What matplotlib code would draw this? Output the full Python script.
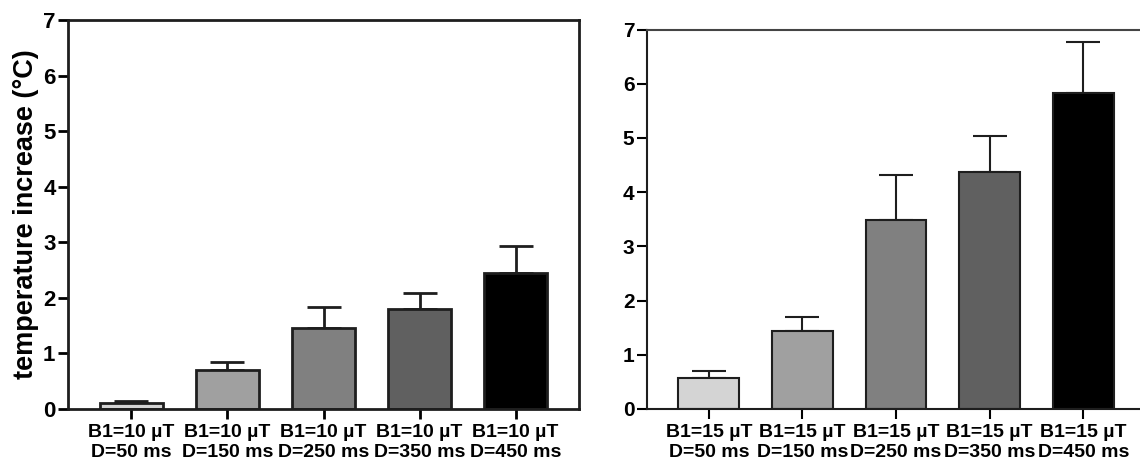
import matplotlib
matplotlib.use("Agg")
import matplotlib.pyplot as plt

plt.rcParams['font.family'] = ['Liberation Sans', 'DejaVu Sans']
plt.rcParams['font.weight'] = 'bold'

# data
labels_10 = ["B1=10 µT\nD=50 ms", "B1=10 µT\nD=150 ms", "B1=10 µT\nD=250 ms",
             "B1=10 µT\nD=350 ms", "B1=10 µT\nD=450 ms"]
labels_15 = ["B1=15 µT\nD=50 ms", "B1=15 µT\nD=150 ms", "B1=15 µT\nD=250 ms",
             "B1=15 µT\nD=350 ms", "B1=15 µT\nD=450 ms"]
mean_10 = [0.10, 0.70, 1.45, 1.80, 2.45]
err_10 = [0.05, 0.15, 0.38, 0.28, 0.48]
mean_15 = [0.58, 1.43, 3.48, 4.38, 5.82]
err_15 = [0.12, 0.27, 0.83, 0.65, 0.95]
colors = ["#d4d4d4", "#a0a0a0", "#808080", "#606060", "#000000"]

fig = plt.figure(figsize=(11.4, 4.63), dpi=100)
W, H = 1140, 463
ax1 = fig.add_axes([68 / W, (H - 409) / H, (579 - 68) / W, (409 - 20) / H])
ax2 = fig.add_axes([647 / W, (H - 409) / H, (1145 - 647) / W, (409 - 29.5) / H])


def draw(ax, means, errs, labels, lw, ysize):
    x = list(range(len(means)))
    ax.bar(x, means, width=0.65, color=colors, edgecolor="#1e1e1e", linewidth=lw, zorder=2)
    ax.errorbar(x, means, yerr=[[0] * len(errs), errs], fmt="none", ecolor="#1e1e1e",
                elinewidth=lw, capsize=12, capthick=lw, zorder=1)
    ax.set_xlim(-0.66, 4.66)
    ax.set_ylim(0, 7)
    ax.set_yticks(range(8))
    ax.set_xticks(x)
    ax.set_xticklabels(labels, fontsize=14, fontweight="bold", linespacing=1.2)
    ax.tick_params(axis="y", labelsize=ysize, width=lw, length=7, pad=2)
    ax.tick_params(axis="x", width=lw, length=7, pad=4)
    for lab in ax.get_yticklabels():
        lab.set_fontweight("bold")
    for s in ax.spines.values():
        s.set_linewidth(lw)
        s.set_color("#1e1e1e")


draw(ax1, mean_10, err_10, labels_10, 2.0, 16)
ax1.set_ylabel("temperature increase (°C)", fontsize=19.5, fontweight="bold", labelpad=3)

draw(ax2, mean_15, err_15, labels_15, 1.5, 15)
ax2.spines["top"].set_color("#444444")

fig.savefig("out.png", dpi=100)
